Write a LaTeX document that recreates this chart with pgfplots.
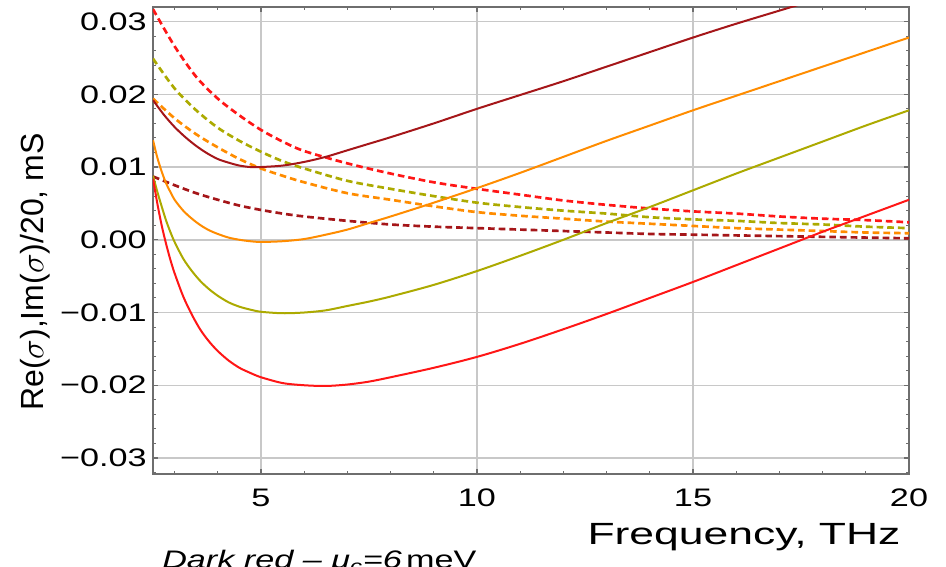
\documentclass[border=0pt]{standalone}
\usepackage{fontspec}
\setmainfont{Liberation Sans}
\newfontfamily\tickfont[FakeStretch=1.35]{Liberation Sans}
\newfontfamily\labfont[FakeStretch=1.45]{Liberation Sans}
\usepackage{pgfplots}
\pgfplotsset{compat=1.18}

\definecolor{cdred}{RGB}{165,22,25}
\definecolor{corange}{RGB}{255,140,0}
\definecolor{colive}{RGB}{172,170,0}
\definecolor{cred}{RGB}{255,22,22}
\definecolor{cgrid}{RGB}{200,200,200}
\definecolor{cframe}{RGB}{110,110,110}

% solid curves: Re(sigma)
\pgfplotstableread{
x y
2.5 0.0192
2.75 0.0172
3.0 0.0155
3.25 0.0141
3.5 0.0129
3.75 0.0119
4.0 0.0111
4.25 0.0106
4.5 0.0102
4.75 0.0100
5.0 0.0100
5.5 0.0102
6.0 0.0107
6.5 0.0114
7.0 0.0123
7.5 0.0132
8.0 0.0141
9.0 0.0160
10.0 0.0180
11.0 0.0199
12.0 0.0218
13.0 0.0238
14.0 0.0258
15.0 0.0278
16.0 0.0297
17.0 0.0315
18.0 0.0333
}\redsolid

\pgfplotstableread{
x y
2.5 0.0137
2.6 0.0113
2.7 0.0094
2.8 0.0078
2.9 0.0066
3.0 0.0055
3.2 0.0040
3.4 0.0029
3.6 0.0020
3.8 0.0013
4.0 0.0008
4.25 0.0003
4.5 0.0000
4.75 -0.0002
5.0 -0.0003
5.5 -0.0002
6.0 0.0001
6.5 0.0007
7.0 0.0014
7.5 0.0023
8.0 0.0032
9.0 0.0051
10.0 0.0071
11.0 0.0092
12.0 0.0114
13.0 0.0136
14.0 0.0157
15.0 0.0178
16.0 0.0198
17.0 0.0218
18.0 0.0238
19.0 0.0258
20.0 0.0278
}\orsolid

\pgfplotstableread{
x y
2.5 0.0088
2.6 0.0066
2.7 0.0046
2.8 0.0027
2.9 0.0011
3.0 -0.0003
3.2 -0.0026
3.4 -0.0043
3.6 -0.0057
3.8 -0.0068
4.0 -0.0077
4.25 -0.0086
4.5 -0.0092
4.75 -0.0096
5.0 -0.0099
5.5 -0.0101
6.0 -0.0100
6.5 -0.0097
7.0 -0.0091
7.5 -0.0085
8.0 -0.0078
9.0 -0.0062
10.0 -0.0043
11.0 -0.0022
12.0 0.0000
13.0 0.0023
14.0 0.0045
15.0 0.0068
16.0 0.0091
17.0 0.0113
18.0 0.0135
19.0 0.0157
20.0 0.0178
}\olsolid

\pgfplotstableread{
x y
2.5 0.0084
2.6 0.0050
2.7 0.0020
2.8 -0.0005
2.9 -0.0027
3.0 -0.0046
3.2 -0.0078
3.4 -0.0103
3.6 -0.0124
3.8 -0.0140
4.0 -0.0153
4.25 -0.0166
4.5 -0.0176
4.75 -0.0183
5.0 -0.0189
5.5 -0.0197
6.0 -0.0200
6.5 -0.0201
7.0 -0.0199
7.5 -0.0195
8.0 -0.0189
9.0 -0.0176
10.0 -0.0161
11.0 -0.0143
12.0 -0.0123
13.0 -0.0102
14.0 -0.0080
15.0 -0.0058
16.0 -0.0035
17.0 -0.0012
18.0 0.0011
19.0 0.0033
20.0 0.0055
}\rdsolid

% dashed curves: Im(sigma)/20
\pgfplotstableread{
x a b c d
2.5 0.0087 0.0194 0.0249 0.0317
3.0 0.0075 0.0167 0.0208 0.0266
3.5 0.0064 0.0145 0.0178 0.0224
4.0 0.0055 0.0127 0.0154 0.0194
4.5 0.0047 0.0111 0.0136 0.0171
5.0 0.0041 0.0098 0.0121 0.0151
5.5 0.0036 0.0088 0.0108 0.0135
6.0 0.0032 0.0079 0.0098 0.0122
7.0 0.0026 0.0064 0.0081 0.0105
8.0 0.0021 0.0055 0.0070 0.0091
9.0 0.0018 0.0046 0.0060 0.0079
10.0 0.0016 0.0038 0.0051 0.0070
11.0 0.0014 0.0033 0.0045 0.0062
12.0 0.0012 0.0029 0.0040 0.0054
13.0 0.0010 0.0025 0.0036 0.0048
14.0 0.0008 0.0022 0.0031 0.0043
15.0 0.0007 0.0019 0.0028 0.0039
16.0 0.0006 0.0016 0.0026 0.0036
17.0 0.0005 0.0014 0.0023 0.0032
18.0 0.0004 0.0012 0.0021 0.0029
19.0 0.0003 0.0010 0.0018 0.0027
20.0 0.0002 0.0009 0.0016 0.0024
}\imag

\begin{document}
\begin{tikzpicture}
\begin{axis}[
    at={(0,0)}, anchor=south west,
    scale only axis,
    width=567pt, height=350.25pt,
    xmin=2.5, xmax=20,
    ymin=-0.0322, ymax=0.032,
    xtick={5,10,15,20},
    xticklabels={5,10,15,20},
    minor xtick={3,4,6,7,8,9,11,12,13,14,16,17,18,19},
    ytick={-0.03,-0.02,-0.01,0,0.01,0.02,0.03},
    yticklabels={−0.03,−0.02,−0.01,0.00,0.01,0.02,0.03},
    minor ytick={-0.032,-0.028,-0.026,-0.024,-0.022,-0.018,-0.016,-0.014,-0.012,-0.008,-0.006,-0.004,-0.002,0.002,0.004,0.006,0.008,0.012,0.014,0.016,0.018,0.022,0.024,0.026,0.028},
    tick align=inside,
    major tick length=4pt,
    minor tick length=2.5pt,
    every tick/.style={cframe, line width=0.8pt},
    xmajorgrids, ymajorgrids,
    major grid style={cgrid, line width=1.1pt},
    axis line style={cframe, line width=1pt},
    xticklabel style={font=\tickfont\fontsize{19}{19}\selectfont, anchor=base, yshift=-24.75pt},
    yticklabel style={font=\tickfont\fontsize{19}{19}\selectfont, anchor=east, inner xsep=0pt, xshift=-4.5pt},
    every axis plot/.append style={line width=1.5pt},
    clip=true,
]
\addplot[cdred, line width=2pt, dash pattern=on 5pt off 3pt, smooth] table[x=x, y=a] {\imag};
\addplot[corange, line width=2pt, dash pattern=on 5pt off 3pt, smooth] table[x=x, y=b] {\imag};
\addplot[colive, line width=2pt, dash pattern=on 5pt off 3pt, smooth] table[x=x, y=c] {\imag};
\addplot[cred, line width=2pt, dash pattern=on 5pt off 3pt, smooth] table[x=x, y=d] {\imag};
\addplot[cdred, smooth] table[x=x, y=y] {\redsolid};
\addplot[corange, smooth] table[x=x, y=y] {\orsolid};
\addplot[colive, smooth] table[x=x, y=y] {\olsolid};
\addplot[cred, smooth] table[x=x, y=y] {\rdsolid};
\end{axis}
\node[rotate=90, anchor=center, font=\fontsize{24}{24}\selectfont] at (-88.5pt,151.5pt) {Re($\sigma$),Im($\sigma$)/20, mS};
\node[anchor=base, font=\labfont\fontsize{23}{23}\selectfont] at (443.25pt,-53.25pt) {Frequency, THz};
\node[anchor=base west, inner sep=0pt, font=\tickfont\fontsize{19}{19}\selectfont] at (6.75pt,-71.25pt) {\textit{Dark red – μ\textsubscript{c}=6}\,meV};
\pgfresetboundingbox
\path (-114.75pt,-69.75pt) rectangle (594.75pt,355.5pt);
\end{tikzpicture}
\end{document}
